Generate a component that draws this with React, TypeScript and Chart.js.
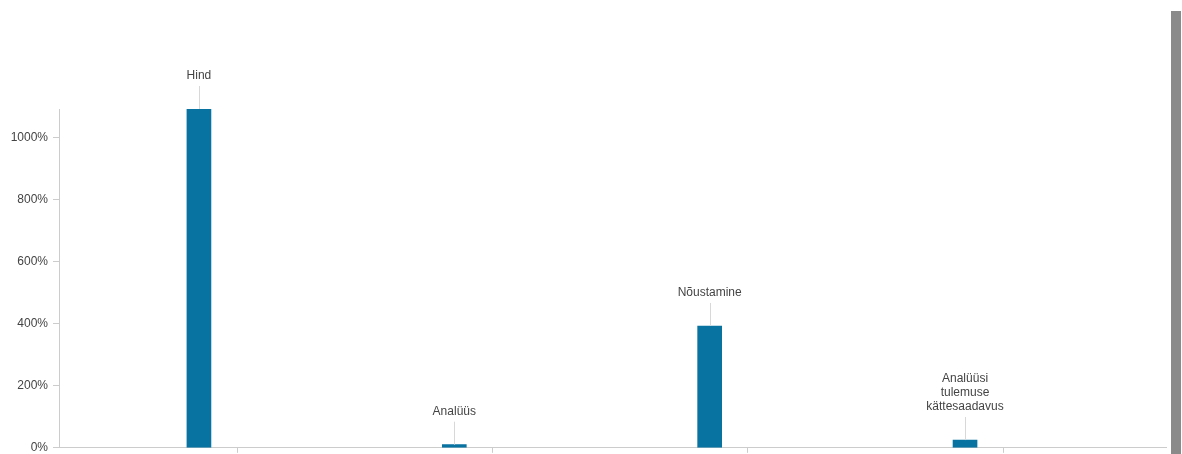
import React, { useEffect, useRef } from "react";
import { Chart, registerables } from "chart.js";

Chart.register(...registerables);

const categories: string[][] = [
  ["Hind"],
  ["Analüüs"],
  ["Nõustamine"],
  ["Analüüsi", "tulemuse", "kättesaadavus"],
];
const categoryPositions = [0, 1, 2, 3];
const values = [1093, 10, 393, 25];
const yTickValues = [0, 200, 400, 600, 800, 1000];
const xTickPositions = [0.15, 1.15, 2.15, 3.15];

const FONT = "'Liberation Sans', Arial, sans-serif";
const TEXT = "#444444";
const AXIS = "#cccccc";
const BAR = "#0872a0";

const labelPlugin = {
  id: "barLabels",
  afterDatasetsDraw(chart: any) {
    const ctx = chart.ctx;
    const meta = chart.getDatasetMeta(0);
    ctx.save();
    ctx.font = `12px ${FONT}`;
    ctx.fillStyle = TEXT;
    ctx.textAlign = "center";
    ctx.textBaseline = "middle";
    meta.data.forEach((el: any, i: number) => {
      const x = el.x;
      const top = el.y;
      const lineTop = top - 23;
      ctx.strokeStyle = "#d8d8d8";
      ctx.lineWidth = 1;
      ctx.beginPath();
      ctx.moveTo(Math.round(x) + 0.5, lineTop);
      ctx.lineTo(Math.round(x) + 0.5, top);
      ctx.stroke();
      const lines = categories[i];
      const lh = 14;
      lines.forEach((t, j) => {
        const y = lineTop - 10 - (lines.length - 1 - j) * lh;
        ctx.fillText(t, x, y);
      });
    });
    ctx.restore();
  },
};

export default function App() {
  const ref = useRef<HTMLCanvasElement>(null);
  useEffect(() => {
    if (!ref.current) return;
    const chart = new Chart(ref.current, {
      type: "bar",
      data: {
        datasets: [
          {
            data: categoryPositions.map((x, i) => ({ x, y: values[i] })),
            backgroundColor: BAR,
            barThickness: 24,
          },
        ],
      },
      options: {
        animation: false,
        responsive: false,
        maintainAspectRatio: false,
        layout: { padding: { top: 109, right: 16, left: 0, bottom: 0 } },
        plugins: { legend: { display: false }, tooltip: { enabled: false } },
        scales: {
          x: {
            type: "linear",
            offset: false,
            min: -0.548,
            max: 3.787,
            afterBuildTicks: (s: any) => {
              s.ticks = xTickPositions.map((v) => ({ value: v }));
            },
            afterFit: (s: any) => {
              s.height = 7;
            },
            grid: {
              drawOnChartArea: false,
              drawTicks: true,
              tickLength: 5,
              color: AXIS,
              offset: false,
            },
            border: { color: AXIS, width: 1 },
            ticks: { display: false },
          },
          y: {
            type: "linear",
            min: 0,
            max: 1093,
            afterBuildTicks: (s: any) => {
              s.ticks = [...yTickValues, 1093].map((v) => ({ value: v }));
            },
            afterFit: (s: any) => {
              s.width = 59;
            },
            grid: {
              drawOnChartArea: false,
              drawTicks: true,
              tickLength: 6,
              color: AXIS,
            },
            border: { color: AXIS, width: 1 },
            ticks: {
              padding: 5,
              color: TEXT,
              font: { family: FONT, size: 12 },
              callback: (v: any) => (yTickValues.includes(v) ? `${v}%` : null),
            },
          },
        },
      },
      plugins: [labelPlugin],
    });
    return () => chart.destroy();
  }, []);
  return (
    <div
      style={{
        position: "fixed",
        left: 0,
        top: 0,
        width: 1182,
        height: 454,
        background: "#fff",
        overflow: "hidden",
      }}
    >
      <canvas ref={ref} width={1182} height={460} style={{ position: "absolute", left: 0, top: 0 }} />
      <div
        style={{
          position: "absolute",
          left: 1171,
          top: 11,
          width: 10,
          height: 443,
          background: "#8a8a8a",
        }}
      />
    </div>
  );
}
